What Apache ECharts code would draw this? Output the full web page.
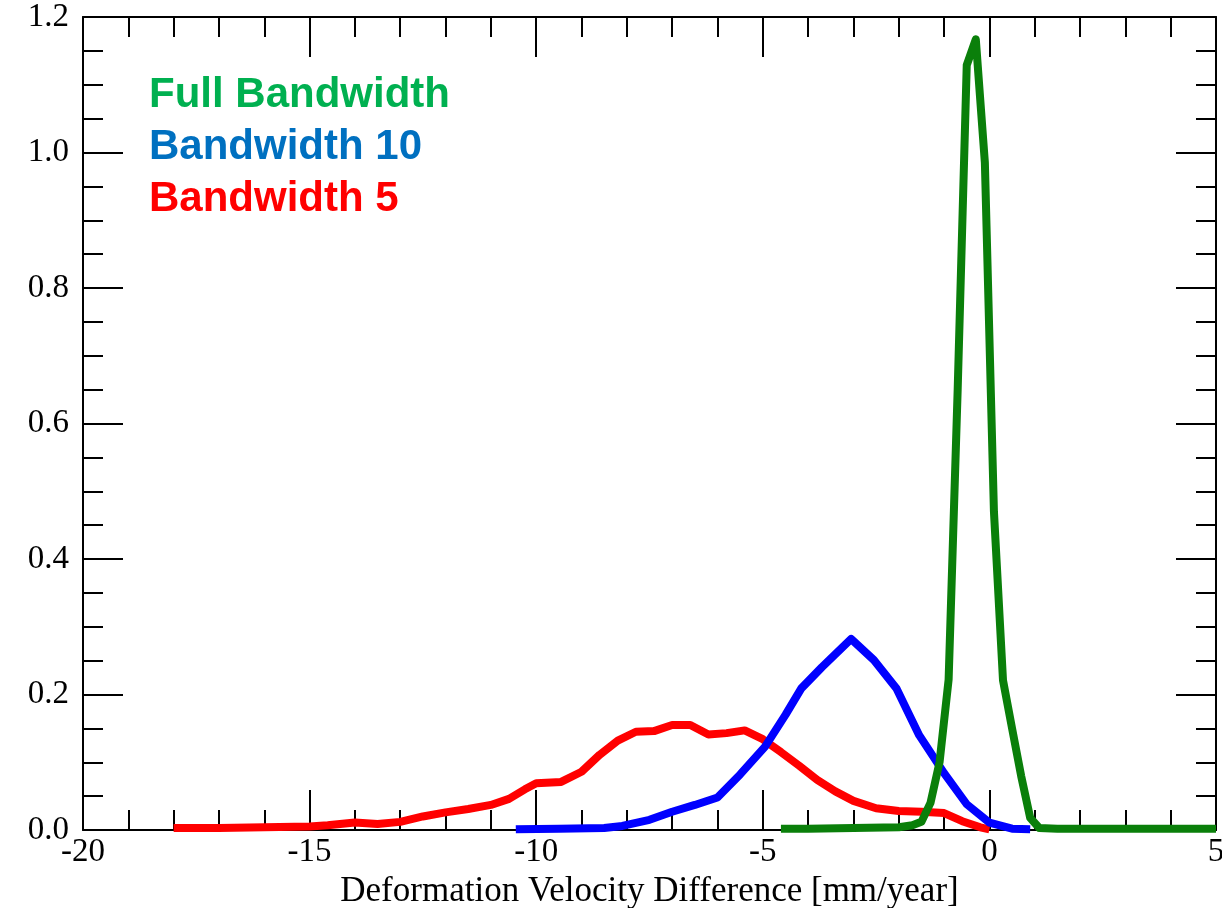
<!DOCTYPE html>
<html>
<head>
<meta charset="utf-8">
<script src="https://cdn.jsdelivr.net/npm/echarts@6/dist/echarts.min.js"></script>
<style>
  html, body { margin: 0; padding: 0; background: #fff; }
  #chart { width: 1222px; height: 908px; }
</style>
</head>
<body>
<div id="chart"></div>
<script>
// values
const seriesNames = ["Full Bandwidth", "Bandwidth 10", "Bandwidth 5"];

const redX = [-18.0, -17.0, -16.0, -15.0, -14.6, -14.0, -13.5, -13.0, -12.5, -12.0, -11.5, -11.0, -10.6, -10.25, -10.0,
  -9.45, -9.0, -8.6, -8.2, -7.8, -7.4, -7.0, -6.6, -6.2, -5.8, -5.4, -5.0, -4.6, -4.2, -3.8, -3.4, -3.0,
  -2.5, -2.0, -1.5, -1.0, -0.6, -0.2, 0.0];
const redY = [0.003, 0.003, 0.004, 0.005, 0.007, 0.011, 0.009, 0.012, 0.020, 0.026, 0.031, 0.037, 0.046, 0.060, 0.069,
  0.071, 0.086, 0.111, 0.132, 0.145, 0.146, 0.155, 0.155, 0.141, 0.143, 0.147, 0.134, 0.115, 0.095, 0.074, 0.057, 0.043,
  0.032, 0.028, 0.027, 0.025, 0.013, 0.004, 0.001];

const blueX = [-10.45, -9.5, -8.5, -8.1, -7.5, -7.0, -6.5, -6.0, -5.5, -4.95, -4.5, -4.15, -3.7, -3.05,
  -2.55, -2.05, -1.55, -1.0, -0.5, 0.0, 0.5, 0.9];
const blueY = [0.001, 0.002, 0.003, 0.006, 0.015, 0.027, 0.037, 0.048, 0.082, 0.123, 0.170, 0.209, 0.240, 0.282,
  0.251, 0.209, 0.140, 0.084, 0.038, 0.011, 0.002, 0.001];

const greenX = [-4.6, -4.0, -3.0, -2.0, -1.7, -1.5, -1.3, -1.1, -0.9, -0.7, -0.5, -0.3, -0.1,
  0.1, 0.3, 0.5, 0.7, 0.9, 1.1, 1.5, 3.0, 5.0];
const greenY = [0.002, 0.002, 0.003, 0.004, 0.007, 0.012, 0.040, 0.100, 0.222, 0.650, 1.129, 1.167, 0.985,
  0.470, 0.221, 0.150, 0.080, 0.018, 0.003, 0.002, 0.002, 0.002];

const xTicks = { min: -20, max: 5, step: 5 };
const yTicks = { min: 0, max: 1.2, step: 0.2 };

function pairs(xs, ys) {
  return xs.map((x, i) => [x, ys[i]]);
}

const serif = "'Liberation Serif', 'Times New Roman', serif";
const black = { color: "#000", width: 2 };

function xAxisCfg(pos, withLabels) {
  return {
    type: "value",
    position: pos,
    min: xTicks.min,
    max: xTicks.max,
    interval: xTicks.step,
    axisLine: { show: true, onZero: false, lineStyle: black },
    axisTick: { show: true, inside: true, length: 40, lineStyle: black },
    minorTick: { show: true, splitNumber: 5, length: 20, lineStyle: black },
    splitLine: { show: false },
    minorSplitLine: { show: false },
    axisLabel: { show: withLabels, color: "#000", fontFamily: serif, fontSize: 33, margin: 6 },
    name: withLabels ? "Deformation Velocity Difference [mm/year]" : "",
    nameLocation: "middle",
    nameGap: 39,
    nameTextStyle: { color: "#000", fontFamily: serif, fontSize: 35 }
  };
}

function yAxisCfg(pos, withLabels) {
  return {
    type: "value",
    position: pos,
    min: yTicks.min,
    max: yTicks.max,
    interval: yTicks.step,
    axisLine: { show: true, onZero: false, lineStyle: black },
    axisTick: { show: true, inside: true, length: 40, lineStyle: black },
    minorTick: { show: true, splitNumber: 4, length: 20, lineStyle: black },
    splitLine: { show: false },
    minorSplitLine: { show: false },
    axisLabel: {
      show: withLabels, color: "#000", fontFamily: serif, fontSize: 33, margin: 14,
      formatter: v => v.toFixed(1)
    }
  };
}

const chart = echarts.init(document.getElementById("chart"));
chart.setOption({
  animation: false,
  backgroundColor: "#fff",
  grid: { left: 83, right: 6, top: 17, bottom: 78, outerBoundsMode: "none" },
  legend: {
    orient: "vertical",
    left: 138,
    top: 69,
    itemWidth: 0,
    itemHeight: 0,
    itemGap: 10,
    selectedMode: false,
    textStyle: {
      fontFamily: "'Liberation Sans', Arial, sans-serif",
      fontWeight: "bold",
      fontSize: 42,
      lineHeight: 42
    },
    data: [
      { name: seriesNames[0], textStyle: { color: "#00b050" } },
      { name: seriesNames[1], textStyle: { color: "#0070c0" } },
      { name: seriesNames[2], textStyle: { color: "#ff0000" } }
    ]
  },
  xAxis: [xAxisCfg("bottom", true), xAxisCfg("top", false)],
  yAxis: [yAxisCfg("left", true), yAxisCfg("right", false)],
  series: [
    {
      name: seriesNames[2], type: "line", showSymbol: false, symbol: "none",
      lineStyle: { color: "#ff0000", width: 8, join: "round" }, itemStyle: { color: "#ff0000" },
      data: pairs(redX, redY)
    },
    {
      name: seriesNames[1], type: "line", showSymbol: false, symbol: "none",
      lineStyle: { color: "#0000ff", width: 8, join: "round" }, itemStyle: { color: "#0000ff" },
      data: pairs(blueX, blueY)
    },
    {
      name: seriesNames[0], type: "line", showSymbol: false, symbol: "none",
      lineStyle: { color: "#0a7f0a", width: 8, join: "round" }, itemStyle: { color: "#0a7f0a" },
      data: pairs(greenX, greenY)
    }
  ]
});
</script>
</body>
</html>
